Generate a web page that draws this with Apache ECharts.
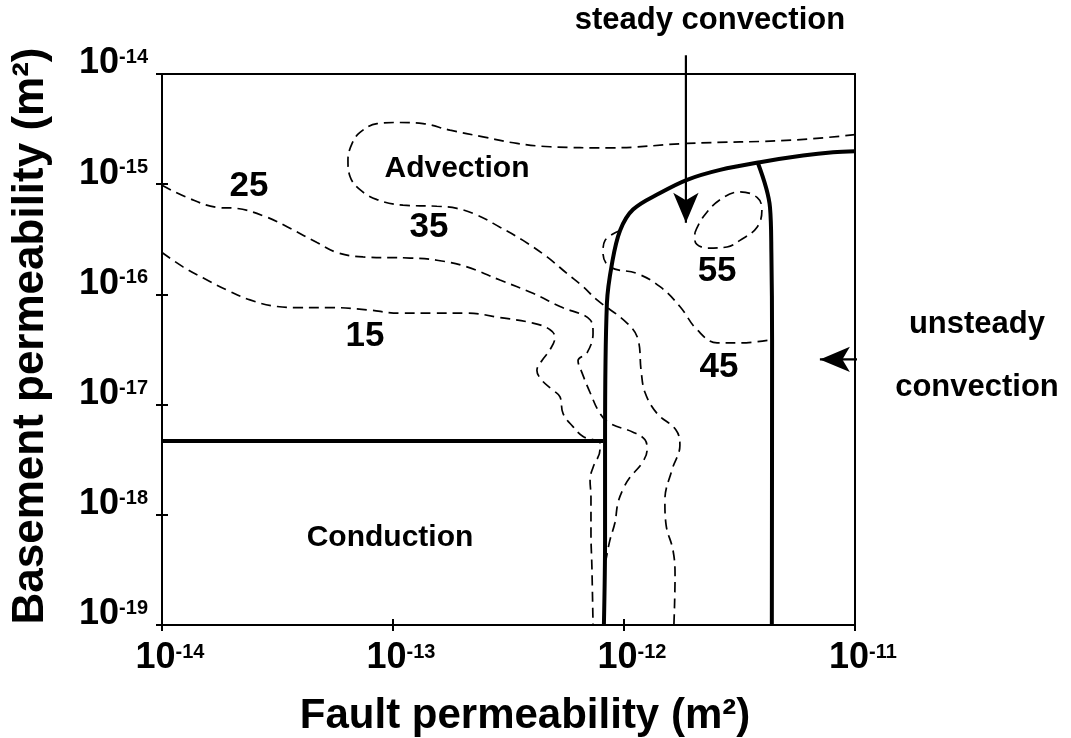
<!DOCTYPE html>
<html>
<head>
<meta charset="utf-8">
<script src="https://cdn.jsdelivr.net/npm/echarts@6/dist/echarts.min.js"></script>
<style>
html, body { margin: 0; padding: 0; background: #fff; }
#chart { width: 1071px; height: 738px; }
</style>
</head>
<body>
<div id="chart"></div>
<script>
// all values are log10 of permeability in m^2 (x: fault, y: basement)
const xRange = [-14, -11]
const yRange = [-19, -14]

// regime boundaries (thick solid lines)
const conductionTop = [[-14, -17.33], [-12.09, -17.33]]
const steadyLeft = [
	[-12.087, -19.0], [-12.082, -18.23], [-12.082, -17.32], [-12.074, -16.08], [-12.052, -15.72],
	[-12.017, -15.42], [-11.961, -15.23], [-11.844, -15.08], [-11.727, -14.96], [-11.584, -14.87],
	[-11.411, -14.80], [-11.225, -14.74], [-11.095, -14.71], [-11.0, -14.70]
]
const steadyRight = [[-11.42, -14.81], [-11.368, -15.21], [-11.362, -15.62], [-11.359, -16.41], [-11.36, -19.0]]

// contours (dashed)
const c35 = [
	[-11.0, -14.55], [-11.268, -14.60], [-11.727, -14.63], [-12.061, -14.67], [-12.32, -14.66],
	[-12.463, -14.63], [-12.61, -14.57], [-12.753, -14.51], [-12.87, -14.45], [-12.97, -14.44],
	[-13.069, -14.45], [-13.143, -14.53], [-13.177, -14.63], [-13.195, -14.78], [-13.186, -14.93],
	[-13.143, -15.05], [-13.069, -15.14], [-12.957, -15.19], [-12.81, -15.20], [-12.723, -15.22],
	[-12.636, -15.28], [-12.537, -15.39], [-12.437, -15.51], [-12.333, -15.66], [-12.247, -15.81],
	[-12.177, -15.93], [-12.117, -16.05], [-11.987, -16.26], [-11.939, -16.41], [-11.926, -16.69],
	[-11.909, -16.89], [-11.857, -17.08], [-11.775, -17.23], [-11.758, -17.37], [-11.792, -17.59],
	[-11.823, -17.87], [-11.818, -18.09], [-11.788, -18.32], [-11.779, -18.55], [-11.784, -19.0]
]
const c25 = [
	[-14.0, -15.01], [-13.892, -15.12], [-13.762, -15.21], [-13.675, -15.22], [-13.545, -15.30],
	[-13.446, -15.40], [-13.329, -15.53], [-13.242, -15.62], [-13.13, -15.66], [-12.926, -15.67],
	[-12.81, -15.69], [-12.68, -15.75], [-12.537, -15.87], [-12.394, -15.99], [-12.277, -16.11],
	[-12.147, -16.23], [-12.134, -16.35], [-12.16, -16.53], [-12.199, -16.60], [-12.182, -16.71],
	[-12.147, -16.89], [-12.104, -17.08], [-12.061, -17.17], [-11.961, -17.25], [-11.909, -17.32],
	[-11.90, -17.41], [-11.922, -17.53], [-11.974, -17.66], [-12.0, -17.75], [-12.026, -17.89],
	[-12.039, -18.07], [-12.061, -18.23], [-12.078, -18.41]
]
const c15 = [
	[-14.0, -15.62], [-13.909, -15.75], [-13.823, -15.85], [-13.719, -15.96], [-13.619, -16.05],
	[-13.502, -16.11], [-13.403, -16.12], [-13.26, -16.12], [-13.113, -16.14], [-12.97, -16.17],
	[-12.827, -16.17], [-12.68, -16.17], [-12.537, -16.21], [-12.394, -16.26], [-12.32, -16.32],
	[-12.299, -16.39], [-12.32, -16.50], [-12.355, -16.60], [-12.377, -16.69], [-12.355, -16.78],
	[-12.307, -16.87], [-12.277, -16.93], [-12.264, -17.08], [-12.221, -17.20], [-12.177, -17.29],
	[-12.104, -17.35], [-12.104, -17.41], [-12.134, -17.57], [-12.147, -17.68], [-12.143, -17.84],
	[-12.143, -18.17], [-12.139, -18.47], [-12.134, -19.0]
]
const c45 = [
	[-12.017, -15.42], [-12.082, -15.51], [-12.091, -15.62], [-12.061, -15.75], [-11.944, -15.81],
	[-11.844, -15.93], [-11.758, -16.11], [-11.684, -16.32], [-11.597, -16.44], [-11.498, -16.44],
	[-11.355, -16.41]
]
const c55 = [
	[-11.693, -15.44], [-11.658, -15.30], [-11.584, -15.14], [-11.498, -15.07], [-11.424, -15.12],
	[-11.403, -15.23], [-11.424, -15.39], [-11.498, -15.51], [-11.554, -15.57], [-11.641, -15.58],
	[-11.693, -15.51], [-11.693, -15.44]
]

// arrows (start, tip)
const steadyArrow = [[-11.732, -13.83], [-11.732, -15.35]]
const unsteadyArrow = [[-10.848, -16.59], [-11.152, -16.59]]

// text labels
const regionLabels = [
	{ name: 'Advection', value: [-12.723, -14.862] },
	{ name: 'Conduction', value: [-13.013, -18.211] }
]
const contourLabels = [
	{ name: '25', value: [-13.623, -15.016] },
	{ name: '35', value: [-12.844, -15.388] },
	{ name: '15', value: [-13.121, -16.377] },
	{ name: '55', value: [-11.597, -15.788] },
	{ name: '45', value: [-11.589, -16.659] }
]
const noteLabels = [
	{ name: 'steady convection', value: [-11.628, -13.51] },
	{ name: 'unsteady', value: [-10.472, -16.27] },
	{ name: 'convection', value: [-10.472, -16.84] }
]

const FONT = 'Liberation Sans, Arial, sans-serif'
const chart = echarts.init(document.getElementById('chart'), null, { renderer: 'canvas' })

const tickRich = {
	b: { fontSize: 36, fontWeight: 'bold', fontFamily: FONT, color: '#000', lineHeight: 32 },
	s: { fontSize: 20, fontWeight: 'bold', fontFamily: FONT, color: '#000', lineHeight: 20, verticalAlign: 'top' }
}
const tickFmt = v => '{b|10}{s|' + v + '}'

const solid = (data, smooth) => ({
	type: 'line', data, smooth, symbol: 'none', clip: false, silent: true, z: 5,
	lineStyle: { color: '#000', width: 4 }
})
const dashed = (data) => ({
	type: 'line', data, smooth: 0.4, symbol: 'none', clip: false, silent: true, z: 3,
	lineStyle: { color: '#000', width: 1.7, type: [10, 6] }
})
// arrow symbol is anchored at its tip
const arrow = (data, rotate) => ({
	type: 'line', symbol: 'circle', showSymbol: true, clip: false, silent: true, z: 6,
	data: data.map((p, i) => i === data.length - 1
		? { value: p, symbol: 'arrow', symbolSize: [19, 30], symbolRotate: rotate, itemStyle: { color: '#000', opacity: 1 } }
		: { value: p, symbol: 'none' }),
	lineStyle: { color: '#000', width: 2.2 }
})
const texts = (data, size) => ({
	type: 'scatter', data, symbolSize: 0, clip: false, silent: true, z: 7,
	itemStyle: { opacity: 1 },
	label: { show: true, position: 'inside', formatter: '{b}', fontSize: size, fontWeight: 'bold', fontFamily: FONT, color: '#000' }
})

const baseAxis = {
	type: 'value', splitLine: { show: false },
	axisLine: { show: true, onZero: false, lineStyle: { color: '#000', width: 2 } },
	axisTick: { show: false }, axisLabel: { show: false }
}

const option = {
	backgroundColor: '#fff',
	animation: false,
	grid: { left: 162, top: 74, width: 693, height: 551, containLabel: false, outerBoundsMode: 'none' },
	xAxis: [
		{
			...baseAxis, min: xRange[0], max: xRange[1], interval: 1, position: 'bottom',
			axisTick: { show: true, length: 6, lineStyle: { color: '#000', width: 2 } },
			axisLabel: { show: true, margin: 17, formatter: tickFmt, rich: tickRich, padding: [0, 0, 0, 16] }
		},
		{
			...baseAxis, min: xRange[0], max: xRange[1], interval: 1, position: 'bottom',
			axisLine: { show: false, onZero: false },
			axisTick: { show: true, inside: true, length: 6, lineStyle: { color: '#000', width: 2 } }
		},
		{ ...baseAxis, min: xRange[0], max: xRange[1], interval: 1, position: 'top' }
	],
	yAxis: [
		{
			...baseAxis, min: yRange[0], max: yRange[1], interval: 1, position: 'left',
			axisTick: { show: true, length: 6, lineStyle: { color: '#000', width: 2 } },
			axisLabel: { show: true, margin: 14, formatter: tickFmt, rich: tickRich, verticalAlign: 'middle', padding: [0, 0, 21, 0] }
		},
		{
			...baseAxis, min: yRange[0], max: yRange[1], interval: 1, position: 'left',
			axisLine: { show: false, onZero: false },
			axisTick: { show: true, inside: true, length: 6, lineStyle: { color: '#000', width: 2 } }
		},
		{ ...baseAxis, min: yRange[0], max: yRange[1], interval: 1, position: 'right' }
	],
	graphic: [
		{
			type: 'text', x: 525, y: 716, silent: true,
			style: { text: 'Fault permeability (m²)', font: 'bold 42px ' + FONT, fill: '#000', align: 'center', verticalAlign: 'middle' }
		},
		{
			type: 'text', x: 31, y: 336, rotation: Math.PI / 2, silent: true,
			style: { text: 'Basement permeability (m²)', font: 'bold 44px ' + FONT, fill: '#000', align: 'center', verticalAlign: 'middle' }
		}
	],
	series: [
		dashed(c35), dashed(c25), dashed(c15), dashed(c45), dashed(c55),
		solid(conductionTop, false), solid(steadyLeft, 0.35), solid(steadyRight, 0.35),
		arrow(steadyArrow, 180), arrow(unsteadyArrow, 90),
		texts(regionLabels, 30), texts(contourLabels, 35), texts(noteLabels, 31)
	]
}
chart.setOption(option)
</script>
</body>
</html>
